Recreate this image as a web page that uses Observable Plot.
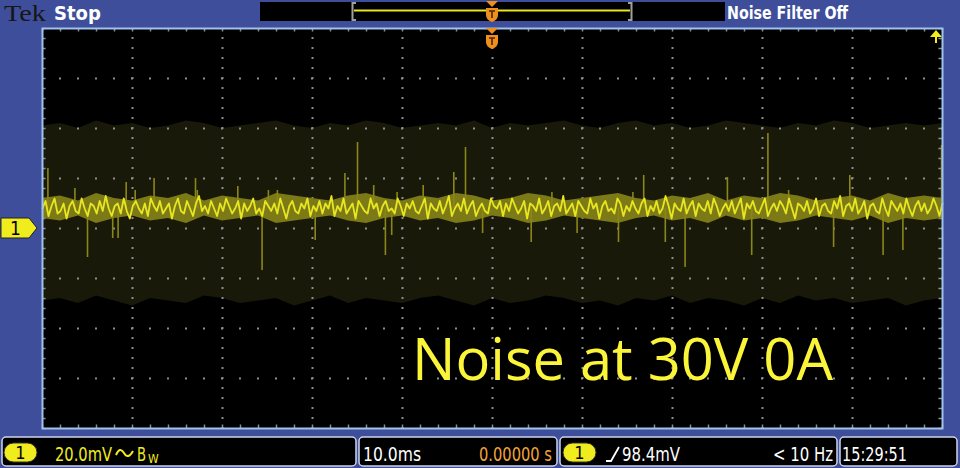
<!DOCTYPE html>
<html><head><meta charset="utf-8">
<script src="https://cdn.jsdelivr.net/npm/d3@7"></script>
<script src="https://cdn.jsdelivr.net/npm/@observablehq/plot@0.6"></script>
<style>
html,body{margin:0;padding:0;background:#3e4e9a;}
#chart{width:960px;height:468px;overflow:hidden;}
</style>
</head><body><div id="chart"></div>
<script>
// ---- data (mV vs ms) ----
const traceMv = [
8,11,5,9,12,6,7,10,4,9,11,7,6,12,8,5,10,9,6,11,7,13,8,5,9,10,6,12,7,4,
9,11,8,6,10,5,12,9,7,11,6,8,10,4,9,12,7,6,11,8,5,10,13,7,9,6,11,8,5,10,
7,12,9,6,8,11,4,10,7,9,12,6,8,5,11,9,7,10,6,12,8,4,9,11,7,6,10,8,12,5,
9,7,11,6,10,8,13,5,9,7,12,6,8,10,4,11,9,7,6,12,8,10,5,9,11,7,8,6,12,9,
5,10,8,11,7,6,9,12,4,10,8,7,11,6,9,13,5,8,10,7,12,6,9,11,5,8,10,7,6,12,
9,8,11,5,10,7,12,9,6,8,11,4,10,9,7,12,6,8,11,5,9,10,7,13,6,8,10,5,11,9,
7,6,12,8,10,4,9,11,7,8,6,12,10,5,9,7,11,8,6,10,12,5,9,7,11,6,8,13,9,4,
10,8,7,12,6,9,11,5,10,8,7,11,6,12,9,5,8,10,7,11,6,9,12,4,10,8,11,7,6,9,
12,5,8,10,7,11,9,6,12,8,4,10,9,7,11,6,8,12,5,9,10,7,6,11,8,13,5,9,10,7,
12,6,8,11,4,9,10,7,6,12,8,5,11,9,7,10,6,12,8,5,9,11,7,10,6,8,12,9,5,10
];
const fuzzHi = [12,13,11,14,12,11,13,12,14,11,13,12,11,14,13,12,11,13,14,12,11,13,12,14,13,11,12,14,13,11,12,13,14,12,11,13,12,14,11,13,12,14,13,11,12,13,11,14,12,13,12];
const fuzzLo = [4,3,5,2,4,5,3,4,2,5,3,4,5,2,3,4,5,3,2,4,5,3,4,2,3,5,4,2,3,5,4,3,2,4,5,3,4,2,5,3,4,2,3,5,4,3,5,2,4,3,4];
const envTop = [41,42,40,43,41,42,40,41,43,42,40,41,42,43,41,40,42,41,43,42,40,41,42,41,43,40,42,41,42,43,41,40,42,43,41,42,40,41,43,42,41,40,42,41,43,42,40,41,42,41,42];
const envBot = [-29,-28,-30,-27,-29,-31,-28,-29,-30,-27,-28,-30,-29,-28,-31,-29,-27,-30,-28,-29,-30,-28,-27,-29,-31,-28,-30,-29,-27,-28,-30,-29,-31,-28,-29,-27,-30,-28,-29,-31,-28,-30,-27,-29,-28,-30,-29,-28,-31,-29,-28];
const spikeT  = [-49.4,-46.4,-45.0,-42.2,-41.6,-40.7,-39.7,-37.6,-33.0,-32.8,-28.3,-25.6,-24.9,-23.9,-19.7,-16.4,-15.0,-13.2,-11.9,-11.2,-10.6,-7.7,-4.3,-3.0,-1.1,4.3,6.6,9.4,14.0,15.6,16.8,19.2,21.4,26.1,28.8,30.6,32.9,37.9,39.7,43.4,45.6,49.9];
const spikeMv = [24,16,-11.6,-4,-4,18.4,15.2,20,20,15.2,16.8,-16.8,15.2,15.2,-4.8,22,34.4,17.2,-10.8,-2.8,14.4,17.2,22.4,32.4,-2,-5.6,14.4,-2,-5.6,14.4,21.2,-5.6,-15.6,20.4,-10.8,38,15.2,-7.6,21.2,-10.8,-8.8,33.2];
const traceLevelMv = 8;
const timeDivs = [-40,-30,-20,-10,0,10,20,30,40];
const voltDivs = [-60,-40,-20,0,20,40,60];
const tRange = [-50, 50];
const vRange = [-80, 80];
const headerLabels = {brand: "Tek", state: "Stop", filter: "Noise Filter Off"};
const footerLabels = {ch: "1", scale: "20.0mV", timebase: "10.0ms", delay: "0.00000 s", trigLevel: "98.4mV", freq: "< 10 Hz", clock: "15:29:51"};
const caption = "Noise at 30V 0A";

// ---- tables ----
const sampleT = (n, i) => tRange[0] + i * (tRange[1] - tRange[0]) / (n - 1);
const trace = traceMv.map((v, i) => ({t: sampleT(traceMv.length, i), v}));
const env = envTop.map((hi, i) => ({t: sampleT(envTop.length, i), hi, lo: envBot[i]}));
const fuzz = fuzzHi.map((hi, i) => ({t: sampleT(fuzzHi.length, i), hi, lo: fuzzLo[i]}));
const spikes = spikeT.map((t, i) => ({t, v: spikeMv[i]}));
const timeMinor = d3.range(tRange[0], tRange[1] + 0.01, 2);
const voltMinor = d3.range(vRange[0], vRange[1] + 0.01, 4);

const gridC = "#8e8e8e";
const plot = Plot.plot({
  width: 960, height: 468,
  marginLeft: 42, marginRight: 18, marginTop: 28, marginBottom: 40,
  x: {domain: tRange, axis: null},
  y: {domain: vRange, axis: null},
  style: {background: "#3e4e9a", overflow: "visible"},
  marks: [
    Plot.frame({fill: "#000"}),
    Plot.areaY(env, {x: "t", y1: "lo", y2: "hi", fill: "#19190a"}),
    Plot.ruleX(timeDivs, {x: d => d, y1: vRange[0], y2: vRange[1], stroke: gridC, strokeWidth: 2, strokeDasharray: "2 8", strokeDashoffset: 1}),
    Plot.ruleY(voltDivs, {y: d => d, x1: tRange[0], x2: tRange[1], stroke: gridC, strokeWidth: 2, strokeDasharray: "2 16", strokeDashoffset: 1}),
    Plot.ruleX(timeMinor, {x: d => d, y1: vRange[1], y2: vRange[1] - 1.4, stroke: gridC, strokeWidth: 1.5}),
    Plot.ruleX(timeMinor, {x: d => d, y1: vRange[0], y2: vRange[0] + 1.4, stroke: gridC, strokeWidth: 1.5}),
    Plot.ruleY(voltMinor, {y: d => d, x1: tRange[1], x2: tRange[1] - 0.4, stroke: gridC, strokeWidth: 1.5}),
    Plot.ruleY(voltMinor, {y: d => d, x1: tRange[0], x2: tRange[0] + 0.4, stroke: gridC, strokeWidth: 1.5}),
    Plot.areaY(fuzz, {x: "t", y1: "lo", y2: "hi", fill: "#7c7a16"}),
    Plot.ruleX(spikes, {x: "t", y1: traceLevelMv, y2: "v", stroke: "#8a8618", strokeWidth: 1.6}),
    Plot.lineY(trace, {x: "t", y: "v", stroke: "#e8e620", strokeWidth: 1.8}),
    Plot.frame({stroke: "#9fc2ee", strokeWidth: 2})
  ]
});
document.getElementById("chart").appendChild(plot);

// ---- scope chrome ----
const xs = plot.scale("x"), ys = plot.scale("y");
const svg = d3.select(plot);
const g = svg.append("g").attr("text-anchor", "start");
const narrow = "'Liberation Sans Narrow','DejaVu Sans Condensed','Liberation Sans',sans-serif";
const yellow = "#f0ec1e", orange = "#f0901c";

// header
g.append("text").attr("x", 4).attr("y", 21).attr("font-family", "'Liberation Serif',serif").attr("font-size", 23).attr("fill", "#161616").attr("textLength", 42).attr("lengthAdjust", "spacingAndGlyphs").text(headerLabels.brand);
g.append("text").attr("x", 54).attr("y", 20).attr("font-family", narrow).attr("font-weight", "bold").attr("font-size", 20).attr("fill", "#fff").text(headerLabels.state);
g.append("rect").attr("x", 260).attr("y", 2).attr("width", 465).attr("height", 19).attr("fill", "#000");
g.append("line").attr("x1", 354).attr("x2", 630).attr("y1", 10.5).attr("y2", 10.5).attr("stroke", "#e8e620").attr("stroke-width", 2);
g.append("path").attr("d", "M356,3 H352.5 V20 H356 M628,3 H631.5 V20 H628").attr("stroke", "#a0a0a0").attr("stroke-width", 2).attr("fill", "none");
g.append("text").attr("x", 727).attr("y", 19).attr("font-family", narrow).attr("font-weight", "bold").attr("font-size", 18).attr("fill", "#fff").attr("textLength", 121).attr("lengthAdjust", "spacingAndGlyphs").text(headerLabels.filter);

function trigMarker(cx, y0) {
  g.append("path").attr("d", `M${cx-6},${y0} L${cx+6},${y0} L${cx},${y0+6} Z`).attr("fill", orange);
  g.append("path").attr("d", `M${cx-6},${y0+7} H${cx+6} V${y0+14} Q${cx+6},${y0+19} ${cx},${y0+21} Q${cx-6},${y0+19} ${cx-6},${y0+14} Z`).attr("fill", orange);
  g.append("path").attr("d", `M${cx-3},${y0+10} H${cx+3} M${cx},${y0+10} V${y0+17}`).attr("stroke", "#4a2400").attr("stroke-width", 1.6).attr("fill", "none");
}
const cx0 = xs.apply(0);
trigMarker(cx0, 1);
trigMarker(cx0, 28);

// trigger level off-screen arrow (top right)
const xr = xs.apply(tRange[1]) - 6, yt = ys.apply(vRange[1]);
g.append("path").attr("d", `M${xr-6},${yt+9} L${xr+6},${yt+9} L${xr},${yt+2} Z`).attr("fill", yellow);
g.append("rect").attr("x", xr - 1).attr("y", yt + 9).attr("width", 2).attr("height", 6).attr("fill", yellow);

// ground marker
const y0 = ys.apply(0);
g.append("path").attr("d", `M1,${y0-10} H29 L37,${y0} L29,${y0+10} H1 Z`).attr("fill", yellow).attr("stroke", "#222").attr("stroke-width", 1);
g.append("text").attr("x", 10).attr("y", y0 + 7).attr("font-family", narrow).attr("font-size", 19).attr("fill", "#000").text(footerLabels.ch);

// footer boxes
const boxes = [[2, 354], [359, 198], [560, 277], [840, 117]];
boxes.forEach(([x, w]) => g.append("rect").attr("x", x).attr("y", 437).attr("width", w).attr("height", 29).attr("rx", 4).attr("fill", "#000").attr("stroke", "#cdd5ec").attr("stroke-width", 1.5));
function pill(x) {
  g.append("rect").attr("x", x).attr("y", 443).attr("width", 33).attr("height", 19).attr("rx", 9.5).attr("fill", yellow).attr("stroke", "#333");
  g.append("text").attr("x", x + 16.5).attr("y", 459).attr("text-anchor", "middle").attr("font-family", narrow).attr("font-size", 18).attr("fill", "#000").text(footerLabels.ch);
}
pill(4); pill(563);
const ftext = (x, s, fill, len, size = 20) => {
  const t = g.append("text").attr("x", x).attr("y", 461).attr("font-family", narrow).attr("font-size", size).attr("fill", fill).text(s);
  if (len) t.attr("textLength", len).attr("lengthAdjust", "spacingAndGlyphs");
  return t;
};
ftext(55, footerLabels.scale, yellow, 57);
g.append("path").attr("d", "M116,455 Q120,446 124,453 Q128,460 133,451").attr("stroke", yellow).attr("stroke-width", 2).attr("fill", "none");
ftext(137, "B", yellow, 9);
g.append("text").attr("x", 148).attr("y", 463).attr("font-family", narrow).attr("font-size", 12).attr("fill", yellow).text("W");
ftext(363, footerLabels.timebase, "#fff", 58);
ftext(479, footerLabels.delay, "#f2a23a", 73);
g.append("path").attr("d", "M606,461 H611 L619,447").attr("stroke", "#fff").attr("stroke-width", 1.8).attr("fill", "none");
ftext(622, footerLabels.trigLevel, "#fff", 58);
ftext(773, footerLabels.freq, "#fff", 60);
ftext(842, footerLabels.clock, "#fff", 65);

// caption
g.append("text").attr("x", 412).attr("y", 380).attr("font-family", "'Open Sans','Noto Sans',sans-serif").attr("font-size", 58).attr("fill", "#fbf53a").attr("textLength", 421).attr("lengthAdjust", "spacingAndGlyphs").text(caption);
</script></body></html>
